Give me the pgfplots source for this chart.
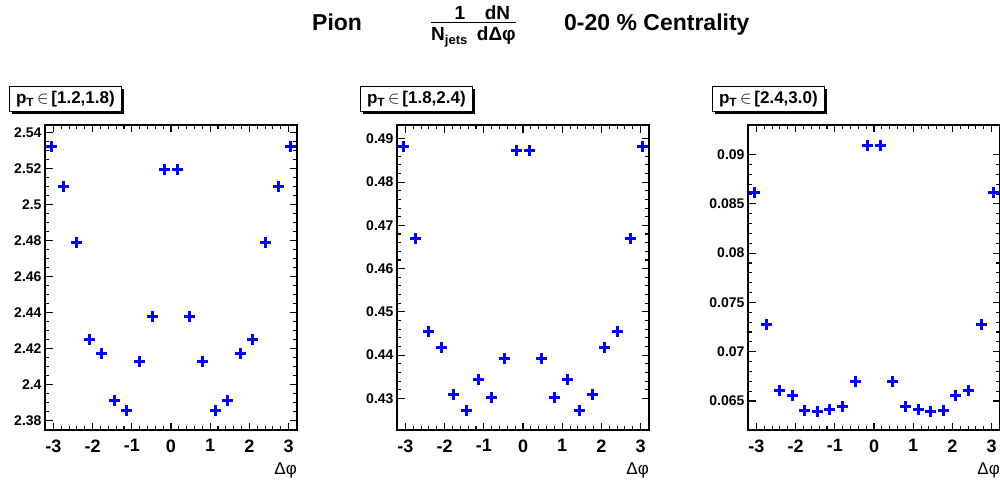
\documentclass[border=0pt]{standalone}
\usepackage{fontspec}
\setmainfont{Liberation Sans}
\usepackage{pgfplots}
\pgfplotsset{compat=1.18}
\usetikzlibrary{shadows}
\definecolor{rootblue}{RGB}{0,0,255}
\pgfplotsset{
  panel/.style={
    scale only axis, width=252pt, height=305pt,
    xmin=-3.214, xmax=3.214,
    xtick={-3,-2,-1,0,1,2,3}, minor x tick num=4,
    axis line style={line width=2pt},
    every tick/.style={black, line width=1.1pt},
    major tick length=7.5pt, minor tick length=3.75pt,
    yticklabel style={font=\bfseries\fontsize{14}{16}\selectfont},
    xticklabel style={font=\bfseries\fontsize{18}{20}\selectfont, yshift=-6pt},
    /pgf/number format/assume math mode=true,
    scaled y ticks=false,
    xlabel={\fontsize{17}{19}\selectfont Δφ},
    xlabel style={at={(axis description cs:1,0)}, anchor=north east, yshift=-33pt, inner sep=0pt},
  },
  pts/.style={only marks, mark=+, mark size=5.5pt, color=rootblue, mark options={line width=3pt}},
}
\tikzset{
  lbl/.style={draw=black, fill=white, line width=0.8pt, minimum width=112pt, minimum height=25pt, anchor=south west, inner sep=1pt,
    font=\fontsize{17}{19}\selectfont, drop shadow={shadow xshift=2.5pt, shadow yshift=-2.5pt, fill=black, opacity=1}},
  ttl/.style={font=\bfseries\fontsize{23}{25}\selectfont, inner sep=0pt},
  frc/.style={font=\bfseries\fontsize{19}{21}\selectfont, inner sep=0pt},
}
\begin{document}
\begin{tikzpicture}[x=1pt,y=1pt]
\path[use as bounding box] (0,0) rectangle (1000,480);

% Title
\node[ttl, anchor=base west] at (312,449) {Pion};
\node[frc, anchor=base] at (460,460) {1};
\node[frc, anchor=base] at (497.5,460) {dN};
\draw[line width=1.5pt] (431,457.3) -- (516,457.3);
\node[frc, anchor=base west] at (431,439) {N\textsubscript{\fontsize{13}{15}\selectfont jets}};
\node[frc, anchor=base east] at (516,439) {dΔφ};
\node[ttl, anchor=base west] at (564,449) {0-20 \% Centrality};

% Panel 1
\begin{axis}[panel, at={(45pt,50pt)}, anchor=south west,
  ymin=2.3748, ymax=2.544, ytick={2.38,2.40,...,2.54}, minor y tick num=3]
\addplot[pts] coordinates {
(-3.053,2.532) (-2.732,2.510) (-2.410,2.479) (-2.089,2.425) (-1.768,2.417)
(-1.446,2.391) (-1.125,2.3855) (-0.804,2.413) (-0.482,2.438) (-0.161,2.5195)
(0.161,2.5195) (0.482,2.438) (0.804,2.413) (1.125,2.3855) (1.446,2.391)
(1.768,2.417) (2.089,2.425) (2.410,2.479) (2.732,2.510) (3.053,2.532)
};
\end{axis}

% Panel 2
\begin{axis}[panel, at={(397pt,50pt)}, anchor=south west,
  ymin=0.4227, ymax=0.4932, ytick={0.43,0.44,...,0.49}, minor y tick num=4]
\addplot[pts] coordinates {
(-3.053,0.4882) (-2.732,0.4669) (-2.410,0.4455) (-2.089,0.4417) (-1.768,0.4308)
(-1.446,0.4272) (-1.125,0.4343) (-0.804,0.4302) (-0.482,0.4393) (-0.161,0.4872)
(0.161,0.4872) (0.482,0.4393) (0.804,0.4302) (1.125,0.4343) (1.446,0.4272)
(1.768,0.4308) (2.089,0.4417) (2.410,0.4455) (2.732,0.4669) (3.053,0.4882)
};
\end{axis}

% Panel 3
\begin{axis}[panel, at={(748pt,50pt)}, anchor=south west,
  ymin=0.06206, ymax=0.0930, ytick={0.065,0.07,0.075,0.08,0.085,0.09}, minor y tick num=4,
  yticklabel style={/pgf/number format/.cd, fixed, precision=3}]
\addplot[pts] coordinates {
(-3.053,0.0862) (-2.732,0.0728) (-2.410,0.0661) (-2.089,0.0656) (-1.768,0.0640)
(-1.446,0.0639) (-1.125,0.0641) (-0.804,0.0644) (-0.482,0.0670) (-0.161,0.0909)
(0.161,0.0909) (0.482,0.0670) (0.804,0.0644) (1.125,0.0641) (1.446,0.0639)
(1.768,0.0640) (2.089,0.0656) (2.410,0.0661) (2.732,0.0728) (3.053,0.0862)
};
\end{axis}

% Labels
\node[lbl] at (9,368) {\textbf{p\textsubscript{T}}\,$\in$\,\textbf{[1.2,1.8)}};
\node[lbl] at (360,368) {\textbf{p\textsubscript{T}}\,$\in$\,\textbf{[1.8,2.4)}};
\node[lbl] at (712,368) {\textbf{p\textsubscript{T}}\,$\in$\,\textbf{[2.4,3.0)}};
\end{tikzpicture}
\end{document}
